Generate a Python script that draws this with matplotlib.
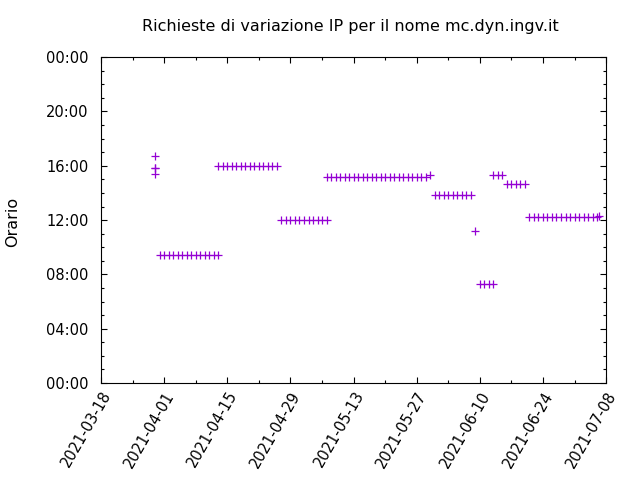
import pandas as pd
import matplotlib
matplotlib.use("Agg")
import matplotlib.pyplot as plt
import matplotlib.dates as mdates
from matplotlib.ticker import MultipleLocator, FuncFormatter

# giorno della richiesta (mese-giorno, 2021) e orario
giorni = [
    "03-30", "03-30", "03-30", "03-30",
    "03-31", "04-01", "04-02", "04-03", "04-04", "04-05", "04-06",
    "04-07", "04-08", "04-09", "04-10", "04-11", "04-12", "04-13",
    "04-13", "04-14", "04-15", "04-16", "04-17", "04-18", "04-19",
    "04-20", "04-21", "04-22", "04-23", "04-24", "04-25", "04-26",
    "04-27", "04-28", "04-29", "04-30", "05-01", "05-02", "05-03",
    "05-04", "05-05", "05-06", "05-07",
    "05-07", "05-08", "05-09", "05-10", "05-11", "05-12", "05-13",
    "05-14", "05-15", "05-16", "05-17", "05-18", "05-19", "05-20",
    "05-21", "05-22", "05-23", "05-24", "05-25", "05-26", "05-27",
    "05-28", "05-29", "05-30",
    "05-31", "06-01", "06-02", "06-03", "06-04", "06-05", "06-06",
    "06-07", "06-08",
    "06-09",
    "06-10", "06-11", "06-12", "06-13",
    "06-13", "06-14", "06-15",
    "06-16", "06-17", "06-18", "06-19", "06-20",
    "06-21", "06-22", "06-23", "06-24", "06-25", "06-26", "06-27",
    "06-28", "06-29", "06-30", "07-01", "07-02", "07-03", "07-04",
    "07-05", "07-06", "07-06 12:00",
]
orari = (["16:44", "15:52", "15:50", "15:25"]
         + ["09:25"] * 14
         + ["15:58"] * 14
         + ["12:00"] * 11
         + ["15:12"] * 23 + ["15:20"]
         + ["13:49"] * 9
         + ["11:13"]
         + ["07:17"] * 4
         + ["15:17"] * 3
         + ["14:40"] * 5
         + ["12:12"] * 16 + ["12:20"])

titolo = "Richieste di variazione IP per il nome mc.dyn.ingv.it"

x = pd.to_datetime(["2021-" + g for g in giorni], format='mixed')
ore = [int(o[:2]) + int(o[3:]) / 60 for o in orari]

plt.rcParams['font.family'] = ['DejaVu Sans']
plt.rcParams['font.size'] = 10.5

fig = plt.figure(figsize=(6.4, 4.8), dpi=100)
ax = fig.add_axes([0.158, 0.202, 0.789, 0.679])
ax.plot(x, ore, '+', color='#9400d3', ms=5.5, mew=0.9)

ax.set_xlim(pd.Timestamp('2021-03-18'), pd.Timestamp('2021-07-08'))
ax.set_ylim(0, 24)
ax.set_xticks(pd.date_range('2021-03-18', '2021-07-08', freq='14D'))
ax.set_xticks(pd.date_range('2021-03-25', '2021-07-01', freq='14D'), minor=True)
ax.xaxis.set_major_formatter(mdates.DateFormatter('%Y-%m-%d'))
ax.yaxis.set_major_locator(MultipleLocator(4))
ax.yaxis.set_minor_locator(MultipleLocator(1))
ax.yaxis.set_major_formatter(FuncFormatter(lambda v, p: "%02d:00" % (int(v) % 24)))

ax.tick_params(which='both', direction='in', top=True, right=True, width=0.8)
ax.tick_params(which='major', length=4)
ax.tick_params(which='minor', length=2)
ax.tick_params(axis='y', pad=9)
ax.tick_params(axis='x', pad=4)
for s in ax.spines.values():
    s.set_linewidth(0.8)
plt.setp(ax.get_xticklabels(), rotation=60, ha='right', va='top', rotation_mode='anchor')

fig.text(0.019, 0.5375, "Orario", rotation=90, ha='center', va='center', fontsize=11.5)
fig.text(0.548, 0.944, titolo, ha='center', va='center', fontsize=11.5)

fig.savefig('out.png')
